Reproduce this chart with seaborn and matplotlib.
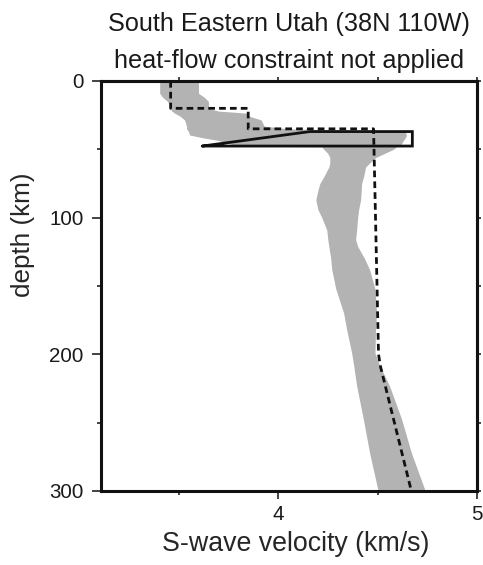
import numpy as np
import pandas as pd
import matplotlib
matplotlib.use("Agg")
import matplotlib.pyplot as plt
import seaborn as sns

# ---- data ----
# best-fitting starting/reference model (dashed)
model_v = [3.46, 3.46, 3.85, 3.85, 4.48, 4.505, 4.515, 4.67]
model_d = [0, 20, 20, 35, 35, 200, 209, 300]

# crustal wedge outline (solid)
wedge_v = [3.62, 4.16, 4.675, 4.675, 3.62]
wedge_d = [47.6, 37.0, 37.0, 47.6, 47.6]

# gray ensemble band: depth, left and right velocity bounds
band_d = [0, 9, 12, 15, 20, 22, 23.5, 26, 28.5, 33, 35, 37, 39.5, 41.5, 43.5,
          46, 47.6, 48.2, 50, 53, 56, 60, 63, 70, 75, 80, 87, 94, 100, 109,
          116, 121, 130, 138, 152, 170, 182, 199, 208, 223, 247, 272, 300]
band_lo = [3.405, 3.405, 3.42, 3.445, 3.462, 3.465, 3.48, 3.51, 3.53, 3.54,
           3.54, 3.55, 3.555, 3.62, 3.70, 3.76, 3.80, 4.22, 4.23, 4.25, 4.26,
           4.26, 4.255, 4.23, 4.21, 4.20, 4.19, 4.20, 4.22, 4.245, 4.25, 4.255,
           4.265, 4.27, 4.29, 4.33, 4.345, 4.37, 4.38, 4.395, 4.428, 4.46, 4.503]
band_hi = [3.60, 3.60, 3.63, 3.65, 3.65, 3.70, 3.84, 3.86, 3.915, 3.93, 4.05,
           4.64, 4.645, 4.64, 4.63, 4.62, 4.60, 4.595, 4.58, 4.535, 4.49, 4.46,
           4.44, 4.43, 4.42, 4.418, 4.415, 4.405, 4.40, 4.395, 4.39, 4.40,
           4.435, 4.46, 4.487, 4.495, 4.49, 4.487, 4.51, 4.56, 4.62, 4.67, 4.74]

x_major = [4, 5]
x_minor = [3.5, 4.5]
y_major = [0, 100, 200, 300]
y_minor = [50, 150, 250]

title1 = "South Eastern Utah (38N 110W)"
title2 = "heat-flow constraint not applied"
xlabel = "S-wave velocity (km/s)"
ylabel = "depth (km)"

# ---- styling ----
sns.set_theme(style="ticks")
plt.rcParams["font.family"] = ["Liberation Sans", "DejaVu Sans"]
plt.rcParams["text.color"] = "#1a1a1a"

W, H = 483, 565
fig = plt.figure(figsize=(W / 100, H / 100), dpi=100)
ax_l, ax_r, ax_t, ax_b = 101, 477, 81, 491
ax = fig.add_axes([ax_l / W, 1 - ax_b / H, (ax_r - ax_l) / W, (ax_b - ax_t) / H])

model = pd.DataFrame({"v": model_v, "d": model_d})
wedge = pd.DataFrame({"v": wedge_v, "d": wedge_d})

ax.fill_betweenx(band_d, band_lo, band_hi, color="#b3b3b3", linewidth=0, zorder=1)
sns.lineplot(data=model, x="v", y="d", sort=False, estimator=None, ax=ax,
             color="#111111", linewidth=2.0, linestyle=(0, (2.4, 1.5)), zorder=3,
             dash_capstyle="butt")
sns.lineplot(data=wedge, x="v", y="d", sort=False, estimator=None, ax=ax,
             color="#111111", linewidth=2.0, zorder=4,
             solid_joinstyle="miter")

ax.set_xlim(3.11, 5.0)
ax.set_ylim(300, 0)

ax.set_xticks(x_major)
ax.set_xticks(x_minor, minor=True)
ax.set_yticks(y_major)
ax.set_yticks(y_minor, minor=True)
ax.set_xticklabels([str(v) for v in x_major])
ax.set_yticklabels([str(v) for v in y_major])

for s in ax.spines.values():
    s.set_linewidth(2.2)
    s.set_color("#111111")

ax.tick_params(axis="both", which="major", length=6, width=1.1, color="#111111",
               labelsize=14.8, labelcolor="#1a1a1a")
ax.tick_params(axis="both", which="minor", length=3, width=1.1, color="#111111")
ax.tick_params(axis="x", which="major", pad=4)
ax.tick_params(axis="y", which="major", pad=6, length=6.5)

# short ticks along the top and right frames
top = ax.secondary_xaxis("top")
top.set_xticks([3.5, 4, 4.5, 5])
top.tick_params(length=3, width=1.1, color="#111111", labeltop=False)
top.spines["top"].set_linewidth(2.2)
right = ax.secondary_yaxis("right")
right.set_yticks([0, 50, 100, 150, 200, 250, 300])
right.tick_params(length=3, width=1.1, color="#111111", labelright=False)
right.spines["right"].set_linewidth(2.2)

ax.set_xlabel(xlabel, fontsize=19.3, va="center", ha="center")
ax.xaxis.set_label_coords((296 - ax_l) / (ax_r - ax_l), (ax_b - 544) / (ax_b - ax_t))
ax.set_ylabel(ylabel, fontsize=18.8, va="center", ha="center")
ax.yaxis.set_label_coords((23 - ax_l) / (ax_r - ax_l), (ax_b - 234.5) / (ax_b - ax_t))

cx = (ax_l + ax_r) / 2 / W
fig.text(cx, 1 - 31 / H, title1, ha="center", va="baseline", fontsize=18.2)
fig.text(cx, 1 - 68 / H, title2, ha="center", va="baseline", fontsize=18.2)

fig.savefig("out.png", dpi=100)
